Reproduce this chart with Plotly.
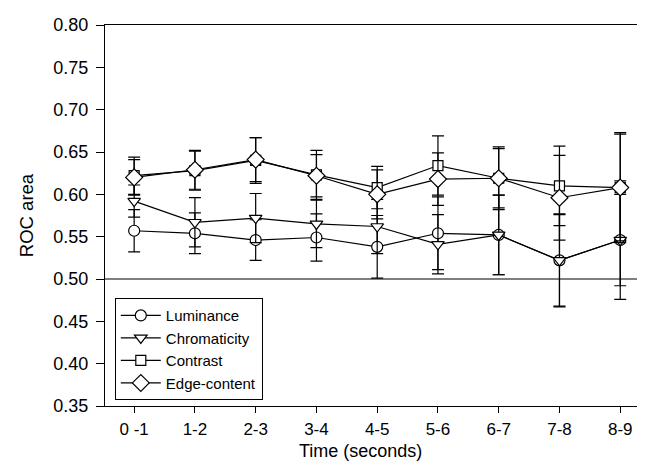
import plotly.graph_objects as go

categories = ["0 -1", "1-2", "2-3", "3-4", "4-5", "5-6", "6-7", "7-8", "8-9"]

luminance = [0.557, 0.554, 0.546, 0.549, 0.538, 0.554, 0.552, 0.522, 0.546]
luminance_err = [0.025, 0.024, 0.024, 0.028, 0.037, 0.043, 0.047, 0.054, 0.070]

chromaticity = [0.592, 0.567, 0.572, 0.565, 0.562, 0.541, 0.552, 0.522, 0.546]
chromaticity_err = [0.019, 0.029, 0.029, 0.028, 0.032, 0.035, 0.047, 0.055, 0.054]

contrast = [0.622, 0.628, 0.640, 0.623, 0.608, 0.634, 0.619, 0.610, 0.608]
contrast_err = [0.022, 0.023, 0.027, 0.029, 0.025, 0.035, 0.037, 0.047, 0.065]

edge = [0.620, 0.629, 0.641, 0.622, 0.600, 0.618, 0.619, 0.596, 0.608]
edge_err = [0.021, 0.023, 0.026, 0.025, 0.029, 0.031, 0.035, 0.050, 0.063]

y_ticks = [0.35, 0.40, 0.45, 0.50, 0.55, 0.60, 0.65, 0.70, 0.75, 0.80]

series = [
    ("Luminance", luminance, luminance_err, "circle", 11),
    ("Chromaticity", chromaticity, chromaticity_err, "triangle-down", 11),
    ("Contrast", contrast, contrast_err, "square", 10),
    ("Edge-content", edge, edge_err, "diamond", 13),
]

x_idx = list(range(len(categories)))

fig = go.Figure()
for name, vals, errs, sym, sz in series:
    fig.add_trace(go.Scatter(
        x=x_idx, y=vals, name=name, mode="lines+markers",
        line=dict(color="black", width=1.2),
        marker=dict(symbol=sym, size=sz, color="white",
                    line=dict(color="black", width=1.2)),
        error_y=dict(type="data", array=errs, visible=True,
                     color="black", thickness=1.2, width=6),
    ))

fig.add_hline(y=0.5, line=dict(color="black", width=1.2))

fig.add_annotation(
    text="Time (seconds)", xref="paper", yref="paper",
    x=(352 - 97) / 545, y=-0.117, xanchor="center", yanchor="middle",
    showarrow=False, font=dict(size=18),
)

fig.update_layout(
    width=645, height=463,
    margin=dict(l=97, r=3, t=17, b=65),
    paper_bgcolor="white", plot_bgcolor="white",
    font=dict(family="Liberation Sans, Arial, sans-serif", size=18, color="black"),
    showlegend=True,
    legend=dict(
        x=0.018, y=0.283, xanchor="left", yanchor="top",
        bordercolor="black", borderwidth=1, bgcolor="white",
        font=dict(size=15), tracegroupgap=0, itemwidth=40,
    ),
    xaxis=dict(
        range=[-0.48, 8.49], tickmode="array", tickvals=x_idx, ticktext=categories,
        showline=True, linecolor="black", linewidth=1.2, mirror=True,
        ticks="outside", ticklen=6, tickcolor="black", tickwidth=1.2,
        showgrid=False, zeroline=False, ticklabelstandoff=1,
        tickfont=dict(size=17),
    ),
    yaxis=dict(
        range=[0.35, 0.80], tickmode="array", tickvals=y_ticks,
        ticktext=[f"{v:.2f}" for v in y_ticks],
        showline=True, linecolor="black", linewidth=1.2, mirror=True,
        ticks="outside", ticklen=8, tickcolor="black", tickwidth=1.2,
        showgrid=False, zeroline=False, ticklabelstandoff=4,
        tickfont=dict(size=18),
        title=dict(text="ROC area", font=dict(size=18.5), standoff=14),
    ),
)

fig.write_html("out.html")
